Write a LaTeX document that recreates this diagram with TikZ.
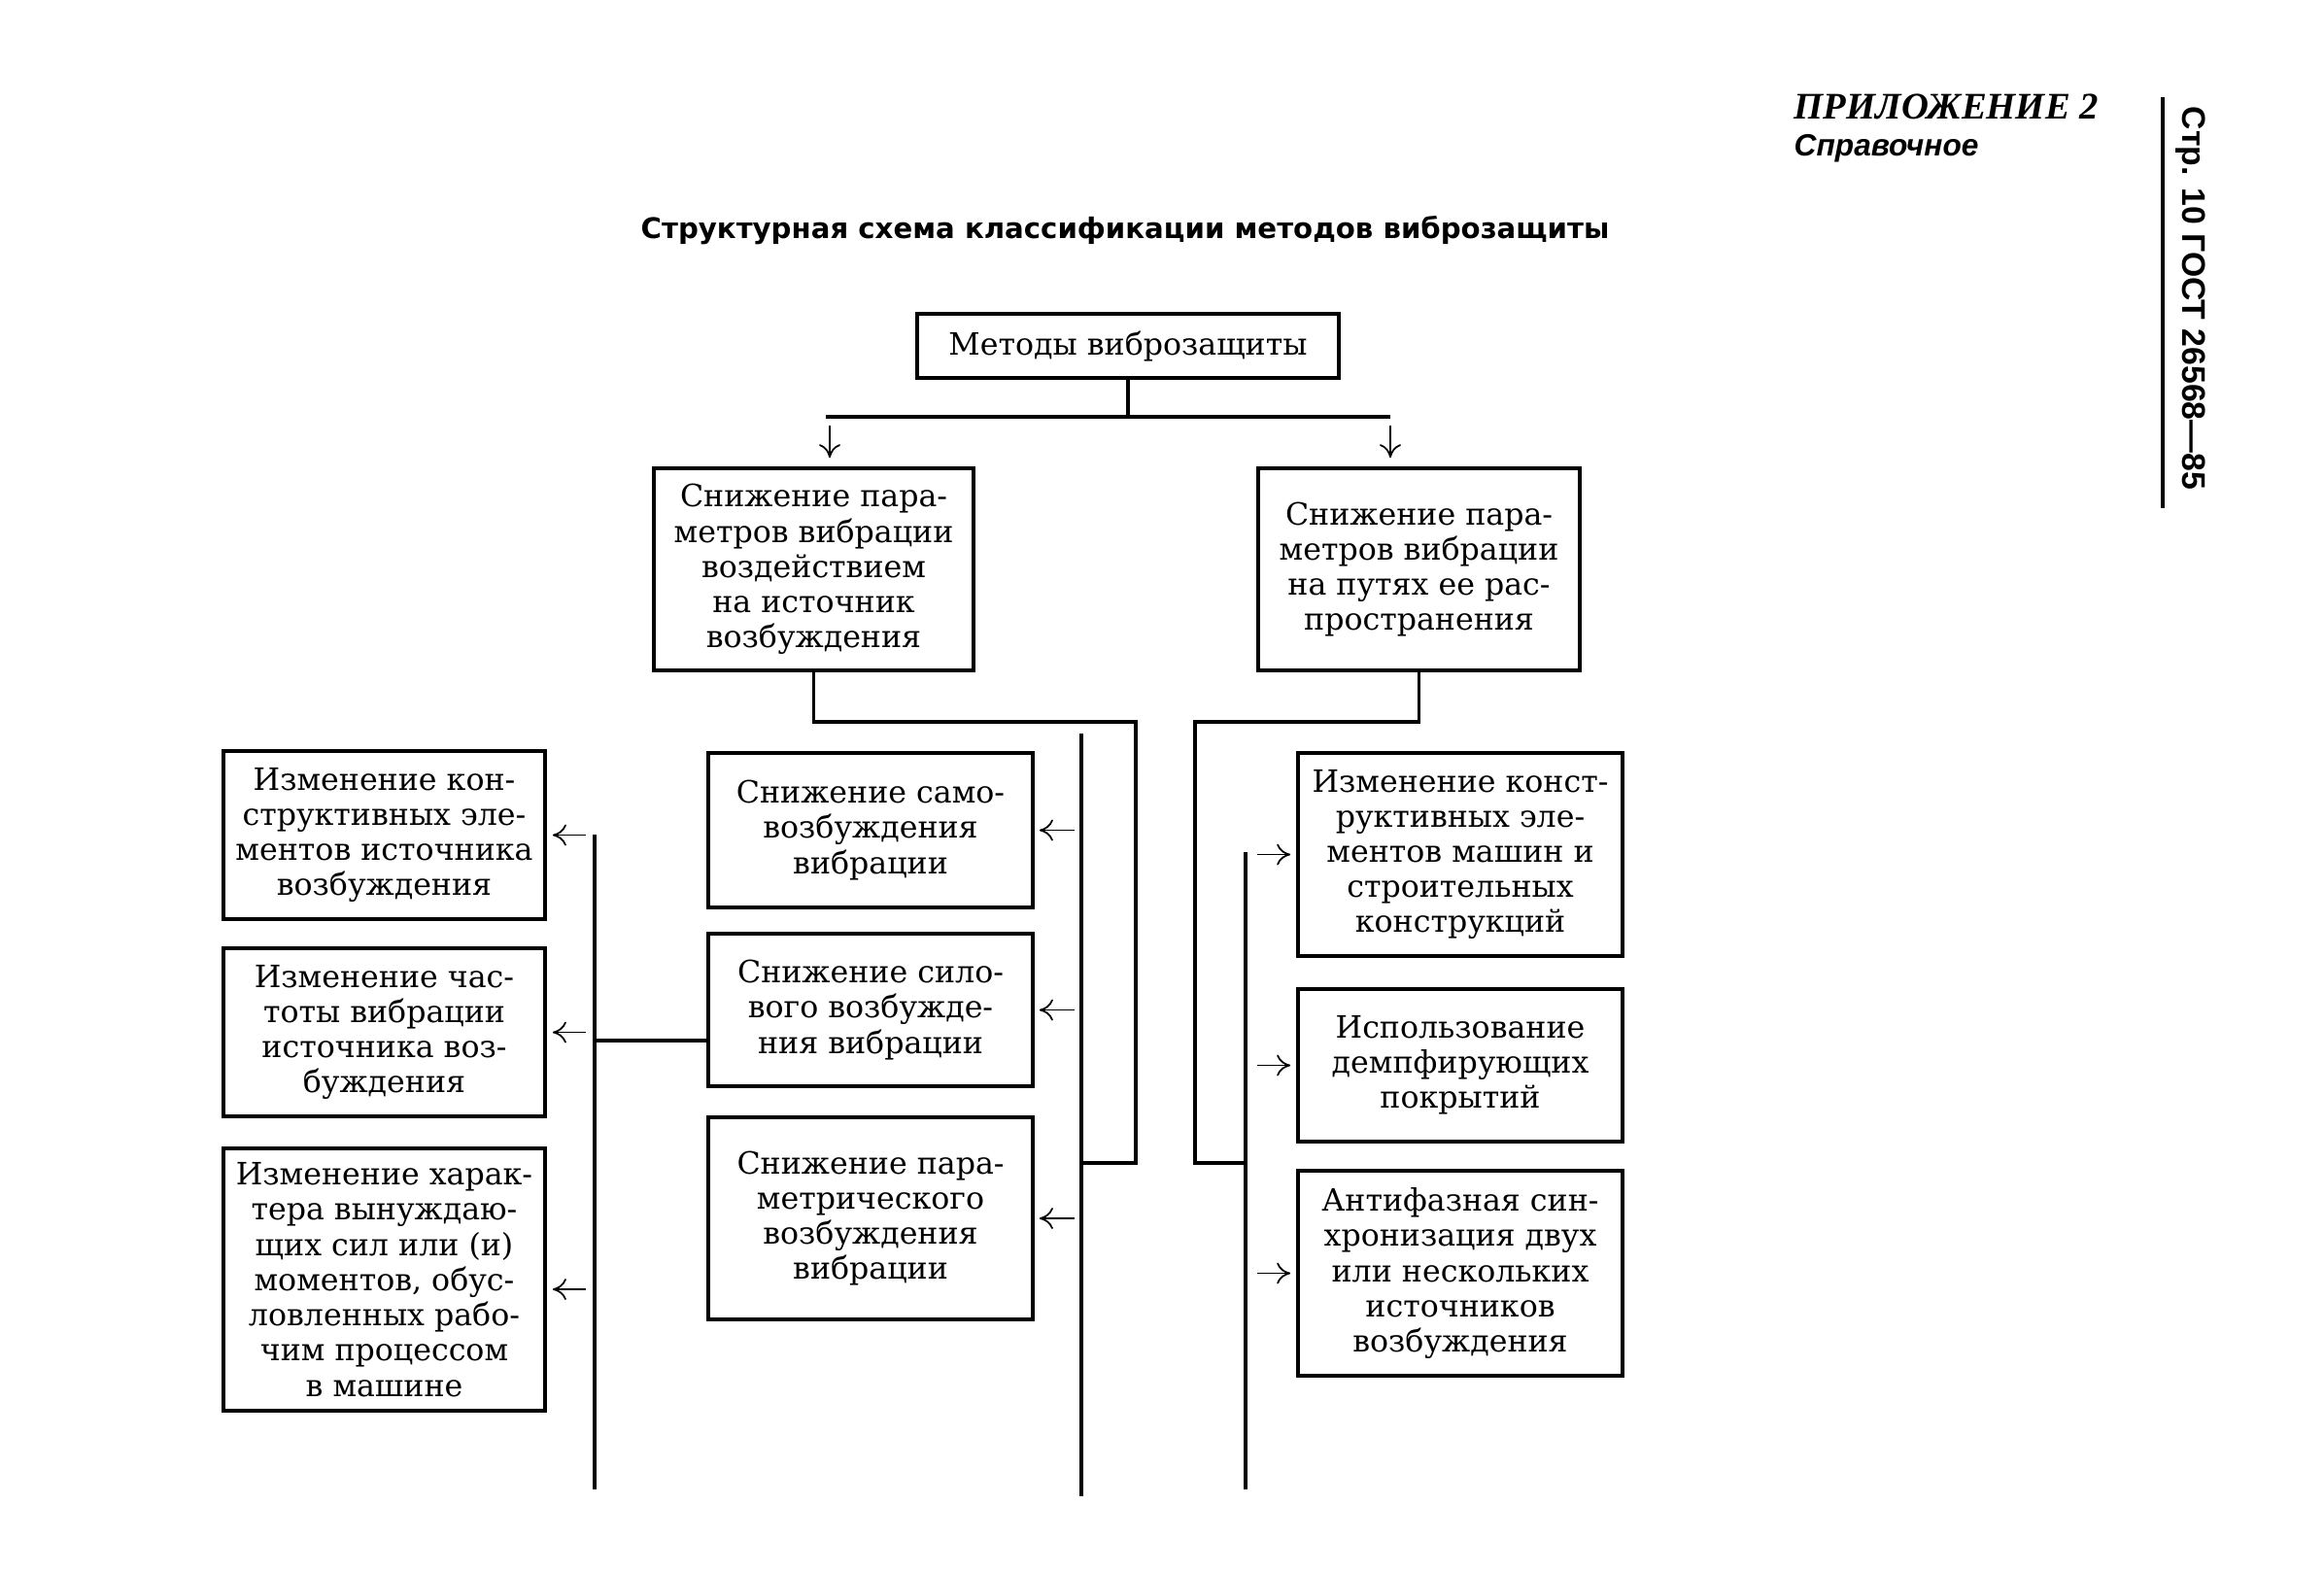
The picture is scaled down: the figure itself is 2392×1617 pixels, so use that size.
\documentclass[tikz,border=0pt]{standalone}
\usepackage{fontspec}
\setmainfont{DejaVu Serif}
\newfontfamily\timesfont{Liberation Serif}
\newfontfamily\arialfont{Liberation Sans}
\newfontfamily\dvsans{DejaVu Sans}
\usetikzlibrary{arrows.meta}

\begin{document}
\begin{tikzpicture}[
			x=0.01cm,y=-0.01cm,
			blk/.style={draw=black,line width=1pt,align=center,inner sep=0pt,
				font=\fontsize{9}{10.3}\selectfont},
			link/.style={draw=black,line width=1pt},
			arr/.style={-{To[length=1.4mm,width=2.2mm]},draw=black,line width=0.5pt},
			larr/.style={arr,shorten <=0.09cm,shorten >=0.06cm},
			marr/.style={arr,shorten <=0.07cm,shorten >=0.05cm},
			rarr/.style={arr,shorten <=0.12cm,shorten >=0.06cm}]
			\useasboundingbox (0,0) rectangle (2392,1617);
			\node[anchor=west,inner sep=0pt,font=\timesfont\bfseries\itshape\fontsize{11}{13}\selectfont] (app) at (1846,110) {ПРИЛОЖЕНИЕ 2};
			\node[anchor=west,inner sep=0pt,font=\arialfont\bfseries\itshape\fontsize{9}{11}\selectfont] (ref) at (1846,153) {Справочное};
			\node[rotate=-90,inner sep=0pt,font=\arialfont\bfseries\fontsize{9.6}{11}\selectfont] (gost) at (2255,307) {Стр. 10 ГОСТ 26568—85};
			\coordinate (rulet) at (2226,100);
			\coordinate (ruleb) at (2226,523);
			\draw[line width=1.2pt] (rulet) -- (ruleb);
			\node[inner sep=0pt,font=\dvsans\bfseries\fontsize{8.3}{10}\selectfont] (title) at (1158,237) {Структурная схема классификации методов виброзащиты};
			\node[blk,minimum width=4.34cm,minimum height=0.66cm] (top) at (1161,356) {Методы виброзащиты};
			\node[blk,minimum width=3.29cm,minimum height=2.08cm] (l1) at (837.5,586) {Снижение пара-\\метров вибрации\\воздействием\\на источник\\возбуждения};
			\node[blk,minimum width=3.31cm,minimum height=2.08cm] (r1) at (1460.5,586) {Снижение пара-\\метров вибрации\\на путях ее рас-\\пространения};
			\node[blk,minimum width=3.31cm,minimum height=1.73cm] (lb1) at (395.5,859.5) {Изменение кон-\\структивных эле-\\ментов источника\\возбуждения};
			\node[blk,minimum width=3.31cm,minimum height=1.73cm] (lb2) at (395.5,1062.5) {Изменение час-\\тоты вибрации\\источника воз-\\буждения};
			\node[blk,minimum width=3.31cm,minimum height=2.70cm] (lb3) at (395.5,1317) {Изменение харак-\\тера вынуждаю-\\щих сил или (и)\\моментов, обус-\\ловленных рабо-\\чим процессом\\в машине};
			\node[blk,minimum width=3.34cm,minimum height=1.59cm] (mb1) at (896,854.5) {Снижение само-\\возбуждения\\вибрации};
			\node[blk,minimum width=3.34cm,minimum height=1.57cm] (mb2) at (896,1039.5) {Снижение сило-\\вого возбужде-\\ния вибрации};
			\node[blk,minimum width=3.34cm,minimum height=2.08cm] (mb3) at (896,1254) {Снижение пара-\\метрического\\возбуждения\\вибрации};
			\node[blk,minimum width=3.34cm,minimum height=2.09cm] (rb1) at (1503,879.5) {Изменение конст-\\руктивных эле-\\ментов машин и\\строительных\\конструкций};
			\node[blk,minimum width=3.34cm,minimum height=1.57cm] (rb2) at (1503,1096.5) {Использование\\демпфирующих\\покрытий};
			\node[blk,minimum width=3.34cm,minimum height=2.11cm] (rb3) at (1503,1310.5) {Антифазная син-\\хронизация двух\\или нескольких\\источников\\возбуждения};
			\coordinate (tl) at (854,429);
			\coordinate (tr) at (1431,429);
			\coordinate (lbtop) at (612,859);
			\coordinate (lbbot) at (612,1533);
			\coordinate (mbtop) at (1113,755);
			\coordinate (mbbot) at (1113,1540);
			\coordinate (rbtop) at (1282,877);
			\coordinate (rbbot) at (1282,1533);
			\draw[link] (top.south) -- (top.south |- tl);
			\draw[link] ([xshift=-0.04cm]tl) -- (tr);
			\draw[arr,shorten <=0.09cm,shorten >=0.09cm] (tl) -- (tl |- l1.north);
			\draw[arr,shorten <=0.09cm,shorten >=0.09cm] (tr) -- (tr |- r1.north);
			\draw[link] (l1.south) |- (1169,743) -- (1169,1197) -- (mbtop |- 0,1197);
			\draw[link] (r1.south) |- (1230,743) -- (1230,1197) -- (rbtop |- 0,1197);
			\draw[link] (mb2.west |- 0,1071) -- (lbtop |- 0,1071);
			\draw[link] (lbtop) -- (lbbot);
			\draw[link] (mbtop) -- (mbbot);
			\draw[link] (rbtop) -- (rbbot);
			\draw[larr] (lb1.east -| lbtop) -- (lb1.east);
			\draw[larr] (lb2.east -| lbtop) -- (lb2.east);
			\draw[larr] ([yshift=-0.1cm]lb3.east -| lbtop) -- ([yshift=-0.1cm]lb3.east);
			\draw[marr] (mb1.east -| mbtop) -- (mb1.east);
			\draw[marr] (mb2.east -| mbtop) -- (mb2.east);
			\draw[marr] (mb3.east -| mbtop) -- (mb3.east);
			\draw[rarr] (rb1.west -| rbtop) -- (rb1.west);
			\draw[rarr] (rb2.west -| rbtop) -- (rb2.west);
			\draw[rarr] (rb3.west -| rbtop) -- (rb3.west);
		\end{tikzpicture}
\end{document}
